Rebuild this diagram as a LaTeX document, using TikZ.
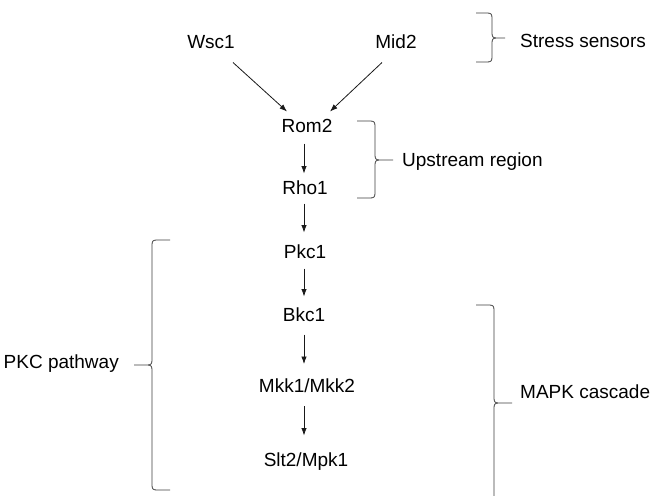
\documentclass[tikz,border=0pt]{standalone}
\usepackage{fontspec}
\setmainfont{Liberation Sans}
\usetikzlibrary{arrows.meta}
\newcommand\mybrace[7]{%
  \draw[brc] (#1,#4) -- ({#2-5*#7},#4) .. controls ({#2-1*#7},#4) and (#2,{#4+1}) .. (#2,{#4+5})
    -- (#2,{#5-5}) .. controls (#2,{#5-1}) and ({#2+1*#7},#5) .. ({#2+5*#7},#5) -- (#3,#5)
    ({#2+5*#7},#5) .. controls ({#2+1*#7},#5) and (#2,{#5+1}) .. (#2,{#5+5})
    -- (#2,{#6-5}) .. controls (#2,{#6-1}) and ({#2-1*#7},#6) .. ({#2-5*#7},#6) -- (#1,#6);}
\begin{document}
\begin{tikzpicture}[x=1pt,y=-1pt,
  lbl/.style={inner sep=0pt,text height=13.6pt,text depth=0pt,
    font=\fontsize{19}{23}\selectfont,text=black},
  arr/.style={draw=black!90,line width=0.8pt,-{Latex[length=7.5pt,width=5.5pt]}},
  brc/.style={draw=black!75,line width=0.8pt}]
\useasboundingbox[fill=white] (0,0) rectangle (657,496);
% nodes
\node[lbl] (w) at (211,41.5) {Wsc1};
\node[lbl] (m) at (396,41.5) {Mid2};
\node[lbl] (r) at (307,125.5) {Rom2};
\node[lbl] (h) at (305,187.5) {Rho1};
\node[lbl] (p) at (305,251.5) {Pkc1};
\node[lbl] (b) at (304,314.5) {Bkc1};
\node[lbl] (k) at (307,386) {Mkk1/Mkk2};
\node[lbl] (s) at (306,459.5) {Slt2/Mpk1};
% labels
\node[lbl,anchor=west] (ls) at (520,40.5) {Stress sensors};
\node[lbl,anchor=west] (lu) at (402,160) {Upstream region};
\node[lbl,anchor=east] (lp) at (119,361.5) {PKC pathway};
\node[lbl,anchor=west] (lm) at (520,391.5) {MAPK cascade};
% arrows
\draw[arr] ([xshift=22pt,yshift=-14pt]w.south) -- ([xshift=-20pt,yshift=7pt]r.north);
\draw[arr] ([xshift=-14pt,yshift=-14pt]m.south) -- ([xshift=23pt,yshift=7pt]r.north);
\draw[arr] ([xshift=-3pt,yshift=-11pt]r.south) -- ([xshift=-1pt,yshift=7pt]h.north);
\draw[arr] ([xshift=-1pt,yshift=-9pt]h.south) -- ([xshift=-1pt,yshift=12pt]p.north);
\draw[arr] ([xshift=-1pt,yshift=-10pt]p.south) -- ([xshift=0pt,yshift=11pt]b.north);
\draw[arr] ([yshift=-13pt]b.south) -- ([xshift=-3pt,yshift=15pt]k.north);
\draw[arr] ([xshift=-3pt,yshift=-13pt]k.south) -- ([xshift=-2pt,yshift=17pt]s.north);
% braces
\mybrace{476}{492}{505}{13}{38}{62}{1}
\mybrace{357}{375}{393}{121}{160}{198}{1}
\mybrace{170}{152}{134}{240}{365}{490}{(-1)}
\mybrace{476}{494}{512}{305}{403}{501}{1}
\end{tikzpicture}
\end{document}
